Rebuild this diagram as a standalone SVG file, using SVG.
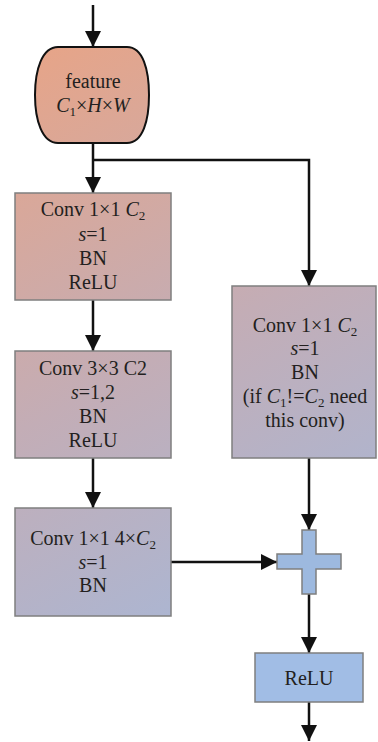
<svg xmlns="http://www.w3.org/2000/svg" width="378" height="742" viewBox="0 0 378 742">
<style>
text{font-family:"Liberation Serif","DejaVu Serif",serif;font-size:20px;fill:#231f20;text-anchor:middle}
.i{font-style:italic}
.sub{font-size:13px}
.box{fill:url(#g);stroke:#7f7f7f;stroke-width:1.5}
.ln{fill:none;stroke:#111;stroke-width:2.5}
</style>
<defs>
<linearGradient id="g" gradientUnits="userSpaceOnUse" x1="20" y1="40" x2="378" y2="720">
<stop offset="0" stop-color="#E8A486"/>
<stop offset="0.45" stop-color="#C3ADB6"/>
<stop offset="1" stop-color="#9BBCE6"/>
</linearGradient>
<marker id="a" markerUnits="userSpaceOnUse" markerWidth="16" markerHeight="16" refX="16" refY="8" orient="auto">
<path d="M0,0 L16,8 L0,16 Z" fill="#111"/>
</marker>
</defs>
<g id="connectors">
<line class="ln" x1="93" y1="5" x2="93" y2="47" marker-end="url(#a)"/>
<line class="ln" x1="93" y1="143" x2="93" y2="193" marker-end="url(#a)"/>
<polyline class="ln" points="93,160 309,160 309,286" marker-end="url(#a)"/>
<line class="ln" x1="93" y1="300" x2="93" y2="351" marker-end="url(#a)"/>
<line class="ln" x1="93" y1="458" x2="93" y2="508" marker-end="url(#a)"/>
<line class="ln" x1="171" y1="562" x2="277" y2="562" marker-end="url(#a)"/>
<line class="ln" x1="309" y1="458" x2="309" y2="530" marker-end="url(#a)"/>
<line class="ln" x1="309" y1="594" x2="309" y2="653" marker-end="url(#a)"/>
<line class="ln" x1="309" y1="702" x2="309" y2="741" marker-end="url(#a)"/>
</g>
<g id="feature">
<path d="M58,47 H127 C143,47 149,70 149,95 C149,120 143,143 127,143 H58 C42,143 35,120 35,95 C35,70 42,47 58,47 Z" fill="url(#g)" stroke="#111" stroke-width="2"/>
<text x="93" y="88">feature</text>
<text x="93" y="112"><tspan class="i">C</tspan><tspan class="sub" dy="4">1</tspan><tspan dy="-4">×</tspan><tspan class="i">H</tspan>×<tspan class="i">W</tspan></text>
</g>
<g id="box1">
<rect class="box" x="15" y="193" width="156" height="107"/>
<text x="93" y="216">Conv 1×1 <tspan class="i">C</tspan><tspan class="sub" dy="4">2</tspan></text>
<text x="93" y="241"><tspan class="i">s</tspan>=1</text>
<text x="93" y="265">BN</text>
<text x="93" y="289">ReLU</text>
</g>
<g id="box2">
<rect class="box" x="15" y="351" width="156" height="107"/>
<text x="93" y="375">Conv 3×3 C2</text>
<text x="93" y="399"><tspan class="i">s</tspan>=1,2</text>
<text x="93" y="423">BN</text>
<text x="93" y="447">ReLU</text>
</g>
<g id="box3">
<rect class="box" x="15" y="508" width="156" height="108"/>
<text x="93" y="545">Conv 1×1 4×<tspan class="i">C</tspan><tspan class="sub" dy="4">2</tspan></text>
<text x="93" y="569"><tspan class="i">s</tspan>=1</text>
<text x="93" y="592">BN</text>
</g>
<g id="shortcut">
<rect class="box" x="232" y="286" width="144" height="172"/>
<text x="305" y="332">Conv 1×1 <tspan class="i">C</tspan><tspan class="sub" dy="4">2</tspan></text>
<text x="305" y="355"><tspan class="i">s</tspan>=1</text>
<text x="305" y="379">BN</text>
<text x="305" y="403">(if <tspan class="i">C</tspan><tspan class="sub" dy="4">1</tspan><tspan dy="-4">!=</tspan><tspan class="i">C</tspan><tspan class="sub" dy="4">2</tspan><tspan dy="-4"> need</tspan></text>
<text x="305" y="427">this conv)</text>
</g>
<g id="add">
<path d="M302,530 H316 V554 H341 V569 H316 V594 H302 V569 H277 V554 H302 Z" fill="#9DB9DF" stroke="#7f7f7f" stroke-width="1.5"/>
</g>
<g id="relu">
<rect x="255" y="653" width="108" height="49" fill="#A1BDE5" stroke="#7f7f7f" stroke-width="1.5"/>
<text x="309" y="685">ReLU</text>
</g>
</svg>
